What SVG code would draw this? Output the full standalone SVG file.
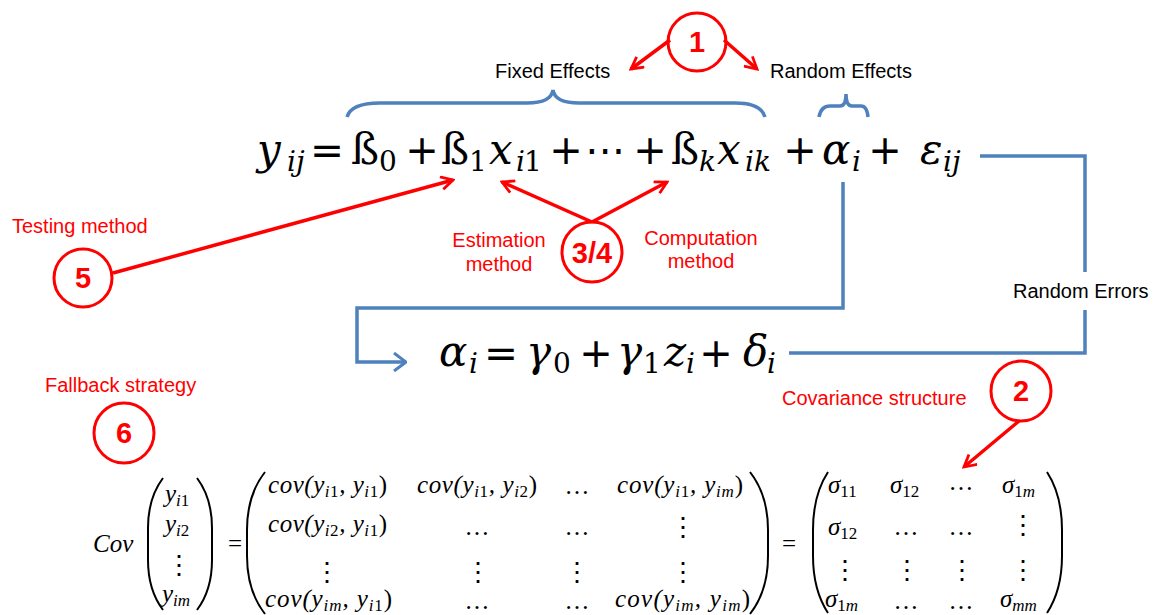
<svg xmlns="http://www.w3.org/2000/svg" width="1156" height="615" viewBox="0 0 1156 615">
<style>
.lbl{font-family:"Liberation Sans",Arial,sans-serif;font-size:20px;fill:#000}
.red{fill:#f00}
.num{font-family:"Liberation Sans",Arial,sans-serif;font-size:29px;font-weight:bold;fill:#f00;text-anchor:middle}
.circ{fill:none;stroke:#f00;stroke-width:3}
.rl{stroke:#f00;stroke-width:3.5;fill:none}
.bl{stroke:#4F81BD;stroke-width:3.5;fill:none}
.mi{font-family:"DejaVu Serif",serif;font-size:42px;font-style:italic}
.mu{font-family:"DejaVu Serif",serif;font-size:42px}
.si{font-family:"DejaVu Serif",serif;font-size:28px;font-style:italic}
.su{font-family:"DejaVu Serif",serif;font-size:28px}
.op{font-family:"DejaVu Sans",sans-serif;font-size:40px;text-anchor:middle}
.ti{font-family:"Liberation Serif","Times New Roman",serif;font-size:25px;font-style:italic}
.tu{font-family:"Liberation Serif","Times New Roman",serif;font-size:25px}
.ts{font-size:17px}
.dots{font-family:"Liberation Serif","Times New Roman",serif;font-size:25px;text-anchor:middle}
.vd{font-family:"DejaVu Serif",serif;font-size:26px;text-anchor:middle}
.par{fill:none;stroke:#000;stroke-width:2}
</style>
<defs>
<marker id="ra" viewBox="0 0 14 14" refX="12" refY="7" markerWidth="15" markerHeight="15" markerUnits="userSpaceOnUse" orient="auto"><path d="M1,1 L12,7 L1,13" fill="none" stroke="#f00" stroke-width="2.6"/></marker>
<marker id="ba" viewBox="0 0 14 20" refX="13" refY="10" markerWidth="14" markerHeight="20" markerUnits="userSpaceOnUse" orient="auto"><path d="M1,1 L13,10 L1,19" fill="none" stroke="#4F81BD" stroke-width="3"/></marker>
</defs>

<g id="equation-main">
<text class="mi" x="257" y="164">y</text><text class="si" x="287" y="171">ij</text>
<text class="op" x="327" y="164" textLength="34" lengthAdjust="spacingAndGlyphs">=</text>
<text class="mu" x="351" y="164">ß</text><text class="su" x="379" y="171">0</text>
<text class="op" x="422" y="164">+</text>
<text class="mu" x="441" y="164">ß</text><text class="su" x="469" y="171">1</text>
<text class="mi" x="489" y="164">x</text><text class="si" x="516" y="171">i</text><text class="su" x="524" y="171">1</text>
<text class="op" x="566" y="164">+</text>
<text class="op" x="605" y="164">⋯</text>
<text class="op" x="650" y="164">+</text>
<text class="mu" x="671" y="164">ß</text><text class="si" x="699" y="171">k</text>
<text class="mi" x="717" y="164">x</text><text class="si" x="745" y="171">ik</text>
<text class="op" x="800" y="164">+</text>
<text class="mi" x="822" y="164">α</text><text class="si" x="852" y="171">i</text>
<text class="op" x="885" y="164">+</text>
<text class="mi" x="920" y="164">ε</text><text class="si" x="943" y="171">ij</text>
</g>

<g id="equation-random">
<text class="mi" x="439" y="366">α</text><text class="si" x="469" y="373">i</text>
<text class="op" x="501" y="367" textLength="34" lengthAdjust="spacingAndGlyphs">=</text>
<text class="mi" x="526" y="366">γ</text><text class="su" x="553" y="373">0</text>
<text class="op" x="596" y="367">+</text>
<text class="mi" x="617" y="366">γ</text><text class="su" x="643" y="373">1</text>
<text class="mi" x="664" y="366">z</text><text class="si" x="686" y="373">i</text>
<text class="op" x="716" y="367">+</text>
<text class="mi" x="743" y="366">δ</text><text class="si" x="767" y="373">i</text>
</g>

<g id="fixed-effects">
<path class="bl" d="M347,117 Q351,103 380,103 L527,103 Q551,103 553,90 Q555,103 579,103 L735,103 Q761,103 765,117"/>
<text class="lbl" x="495" y="78">Fixed Effects</text>
</g>
<g id="random-effects">
<path class="bl" d="M819,117 Q821,106 830,106 L840,106 Q846,106 846,94 Q846,106 852,106 L861,106 Q867,106 868,117"/>
<text class="lbl" x="770" y="78">Random Effects</text>
</g>
<g id="random-errors">
<text class="lbl" x="1013" y="298">Random Errors</text>
</g>

<g id="ann-1">
<circle class="circ" cx="697" cy="42" r="29"/>
<text class="num" x="697" y="52">1</text>
</g>
<g id="ann-5">
<text class="lbl red" x="12" y="233">Testing method</text>
<circle class="circ" cx="83" cy="278" r="29"/>
<text class="num" x="83" y="288">5</text>
</g>
<g id="ann-34">
<circle class="circ" cx="592" cy="252" r="30"/>
<text class="num" x="592" y="263">3/4</text>
<text class="lbl red" x="499" y="247" text-anchor="middle">Estimation</text>
<text class="lbl red" x="499" y="271" text-anchor="middle">method</text>
<text class="lbl red" x="701" y="245" text-anchor="middle">Computation</text>
<text class="lbl red" x="701" y="268" text-anchor="middle">method</text>
</g>
<g id="ann-2">
<text class="lbl red" x="782" y="405">Covariance structure</text>
<circle class="circ" cx="1021" cy="391" r="30"/>
<text class="num" x="1021" y="401">2</text>
</g>
<g id="ann-6">
<text class="lbl red" x="45" y="392">Fallback strategy</text>
<circle class="circ" cx="124" cy="433" r="30"/>
<text class="num" x="124" y="443">6</text>
</g>

<g id="covariance-equation">
<text class="ti" x="93" y="552">Cov</text>
<path class="par" d="M163,478 Q148,498 148,528 L148,560 Q148,590 163,610"/>
<text class="ti" x="165" y="502">y<tspan class="ts" dy="4">i</tspan><tspan class="ts" font-style="normal">1</tspan></text>
<text class="ti" x="165" y="532">y<tspan class="ts" dy="4">i</tspan><tspan class="ts" font-style="normal">2</tspan></text>
<text class="vd" x="179" y="574">⋮</text>
<text class="ti" x="162" y="602">y<tspan class="ts" dy="4">im</tspan></text>
<path class="par" d="M197,478 Q212,498 212,528 L212,560 Q212,590 197,610"/>
<text class="tu" x="235" y="552" text-anchor="middle">=</text>

<path class="par" d="M265,472 Q247,495 247,530 L247,556 Q247,591 265,614"/>
<text class="ti" x="268" y="493" textLength="119" lengthAdjust="spacing">cov(y<tspan class="ts" dy="4">i</tspan><tspan class="ts" font-style="normal">1</tspan><tspan dy="-4">, y</tspan><tspan class="ts" dy="4">i</tspan><tspan class="ts" font-style="normal">1</tspan><tspan dy="-4" font-style="normal">)</tspan></text>
<text class="ti" x="417" y="493" textLength="120" lengthAdjust="spacing">cov(y<tspan class="ts" dy="4">i</tspan><tspan class="ts" font-style="normal">1</tspan><tspan dy="-4">, y</tspan><tspan class="ts" dy="4">i</tspan><tspan class="ts" font-style="normal">2</tspan><tspan dy="-4" font-style="normal">)</tspan></text>
<text class="dots" x="577" y="494">…</text>
<text class="ti" x="617" y="493" textLength="126" lengthAdjust="spacing">cov(y<tspan class="ts" dy="4">i</tspan><tspan class="ts" font-style="normal">1</tspan><tspan dy="-4">, y</tspan><tspan class="ts" dy="4">im</tspan><tspan dy="-4" font-style="normal">)</tspan></text>

<text class="ti" x="268" y="532" textLength="119" lengthAdjust="spacing">cov(y<tspan class="ts" dy="4">i</tspan><tspan class="ts" font-style="normal">2</tspan><tspan dy="-4">, y</tspan><tspan class="ts" dy="4">i</tspan><tspan class="ts" font-style="normal">1</tspan><tspan dy="-4" font-style="normal">)</tspan></text>
<text class="dots" x="477" y="535">…</text>
<text class="dots" x="577" y="535">…</text>
<text class="vd" x="683" y="536">⋮</text>

<text class="vd" x="327" y="581">⋮</text>
<text class="vd" x="478" y="581">⋮</text>
<text class="vd" x="577" y="581">⋮</text>
<text class="vd" x="683" y="581">⋮</text>

<text class="ti" x="265" y="607" textLength="127" lengthAdjust="spacing">cov(y<tspan class="ts" dy="4">im</tspan><tspan dy="-4">, y</tspan><tspan class="ts" dy="4">i</tspan><tspan class="ts" font-style="normal">1</tspan><tspan dy="-4" font-style="normal">)</tspan></text>
<text class="dots" x="477" y="609">…</text>
<text class="dots" x="577" y="609">…</text>
<text class="ti" x="615" y="607" textLength="135" lengthAdjust="spacing">cov(y<tspan class="ts" dy="4">im</tspan><tspan dy="-4">, y</tspan><tspan class="ts" dy="4">im</tspan><tspan dy="-4" font-style="normal">)</tspan></text>
<path class="par" d="M750,472 Q768,495 768,530 L768,556 Q768,591 750,614"/>

<text class="tu" x="789" y="552" text-anchor="middle">=</text>

<path class="par" d="M828,472 Q813,495 813,530 L813,556 Q813,590 828,613"/>
<text class="ti" x="828" y="493">σ<tspan class="ts" dy="4" font-style="normal">11</tspan></text>
<text class="ti" x="890" y="493">σ<tspan class="ts" dy="4" font-style="normal">12</tspan></text>
<text class="dots" x="961" y="490">…</text>
<text class="ti" x="1002" y="493">σ<tspan class="ts" dy="4" font-style="normal">1</tspan><tspan class="ts">m</tspan></text>
<text class="ti" x="828" y="535">σ<tspan class="ts" dy="4" font-style="normal">12</tspan></text>
<text class="dots" x="906" y="535">…</text>
<text class="dots" x="961" y="535">…</text>
<text class="vd" x="1023" y="534">⋮</text>
<text class="vd" x="845" y="579">⋮</text>
<text class="vd" x="907" y="579">⋮</text>
<text class="vd" x="962" y="579">⋮</text>
<text class="vd" x="1023" y="579">⋮</text>
<text class="ti" x="825" y="607">σ<tspan class="ts" dy="4" font-style="normal">1</tspan><tspan class="ts">m</tspan></text>
<text class="dots" x="906" y="609">…</text>
<text class="dots" x="961" y="609">…</text>
<text class="ti" x="1000" y="607">σ<tspan class="ts" dy="4">mm</tspan></text>
<path class="par" d="M1047,472 Q1062,495 1062,530 L1062,556 Q1062,590 1047,613"/>
</g>

<g id="connectors">
<path class="bl" d="M843,182 L843,308 L357,308 L357,362 L406,362" marker-end="url(#ba)"/>
<path class="bl" d="M980,156 L1085,156 L1085,272"/>
<path class="bl" d="M1085,310 L1085,353 L789,353"/>
<line class="rl" x1="670" y1="40" x2="631" y2="69" marker-end="url(#ra)"/>
<line class="rl" x1="724" y1="40" x2="757" y2="69" marker-end="url(#ra)"/>
<line class="rl" x1="113" y1="273" x2="453" y2="180" marker-end="url(#ra)"/>
<line class="rl" x1="592" y1="222" x2="502" y2="182" marker-end="url(#ra)"/>
<line class="rl" x1="592" y1="222" x2="667" y2="182" marker-end="url(#ra)"/>
<line class="rl" x1="1019" y1="421" x2="964" y2="467" marker-end="url(#ra)"/>
</g>
</svg>
